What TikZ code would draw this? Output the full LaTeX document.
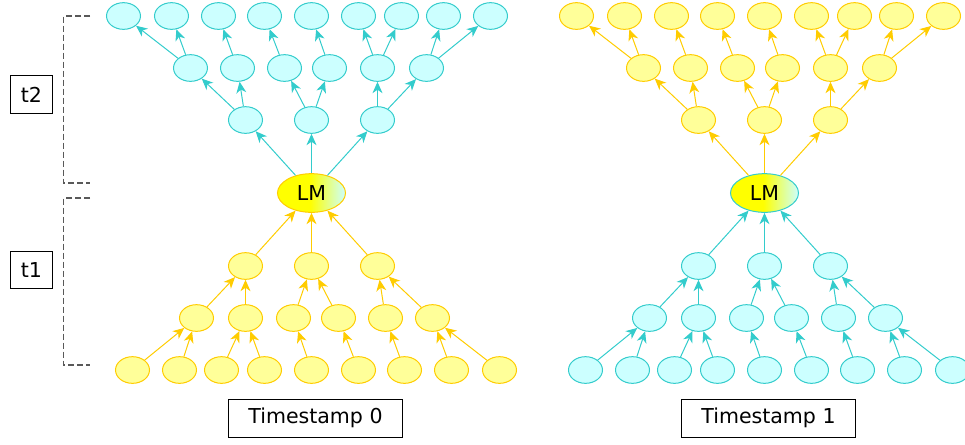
\documentclass[tikz,border=0pt]{standalone}
\usepackage{fontspec}
\setmainfont{DejaVu Sans}
\usetikzlibrary{positioning, arrows.meta, shapes.geometric}
\definecolor{tealfill}{HTML}{CCFFFF}
\definecolor{tealline}{HTML}{33CCCC}
\definecolor{goldfill}{HTML}{FFFF99}
\definecolor{goldline}{HTML}{FFCC00}
\definecolor{lmyellow}{HTML}{FFFF00}
\pgfdeclarehorizontalshading{lmshade}{100bp}{color(0bp)=(lmyellow); color(25bp)=(lmyellow); color(49bp)=(lmyellow); color(75bp)=(tealfill); color(100bp)=(tealfill)}
\tikzset{ball/.style={ellipse, draw=#1line, fill=#1fill, minimum width=25.5pt, minimum height=20pt, inner sep=0pt},
  lm node/.style={ellipse, draw=#1line, shading=lmshade, minimum width=51pt, minimum height=29pt, inner sep=0pt},
  feed/.style={draw=#1line, -{Stealth[length=8.5pt, width=7.5pt, inset=2.6pt]}},
  stamp box/.style={draw, line width=0.6pt, minimum width=130pt, minimum height=29pt, inner sep=0pt},
  tick box/.style={draw, line width=0.6pt, minimum width=32pt, minimum height=28pt, inner sep=0pt},
  bracket/.style={draw=black!65, line width=1.1pt, dash pattern=on 4.5pt off 2.25pt},}

\begin{document}
\begin{tikzpicture}[x=0.75pt, y=-0.75pt, line width=0.75pt, font=\fontsize{15.4pt}{18pt}\selectfont]
	\useasboundingbox (0,0) rectangle (965,444);
	% Steps
	\draw[bracket] (90,16) -- (63.5,16) -- (63.5,183) -- (90,183);
	\draw[bracket] (90,198) -- (63.5,198) -- (63.5,365) -- (90,365);
	\node[tick box] (t2) at (31.5,94.5) {t2};
	\node[tick box] (t1) at (31.5,270) {t1};
	% Trees
	\foreach \t/\cx/\up/\down in {0/311.5/teal/gold, 1/764.5/gold/teal} {
		\node[lm node=\down] (lm\t) at (\cx,193) {LM};
		\foreach \i/\dx in {1/-66, 2/0, 3/66} {
			\node[ball=\up] (u1-\t-\i) at (\cx+\dx,120) {};
			\node[ball=\down] (d1-\t-\i) at (\cx-\dx,266) {};
		}
		\foreach \i/\dx in {1/-121, 2/-74, 3/-27, 4/18, 5/66, 6/115} {
			\node[ball=\up] (u2-\t-\i) at (\cx+\dx,68) {};
			\node[ball=\down] (d2-\t-\i) at (\cx-\dx,318) {};
		}
		\foreach \i/\dx in {1/-188, 2/-140, 3/-93, 4/-47, 5/0, 6/47, 7/90, 8/132, 9/179} {
			\node[ball=\up] (u3-\t-\i) at (\cx+\dx,16) {};
			\node[ball=\down] (d3-\t-\i) at (\cx-\dx,370) {};
		}
		% Paths
		\foreach \i in {1,2,3} {
			\draw[feed=\up] (lm\t) -- (u1-\t-\i);
			\draw[feed=\down] (d1-\t-\i) -- (lm\t);
		}
		\foreach \p/\c in {1/1, 1/2, 2/3, 2/4, 3/5, 3/6} {
			\draw[feed=\up] (u1-\t-\p) -- (u2-\t-\c);
			\draw[feed=\down] (d2-\t-\c) -- (d1-\t-\p);
		}
		\foreach \p/\c in {1/1, 1/2, 2/3, 3/4, 4/5, 5/6, 5/7, 6/8, 6/9} {
			\draw[feed=\up] (u2-\t-\p) -- (u3-\t-\c);
			\draw[feed=\down] (d3-\t-\c) -- (d2-\t-\p);
		}
		\node[stamp box, below=11pt of d3-\t-5, xshift=3pt] (stamp\t) {Timestamp \t};
	}
\end{tikzpicture}
\end{document}
